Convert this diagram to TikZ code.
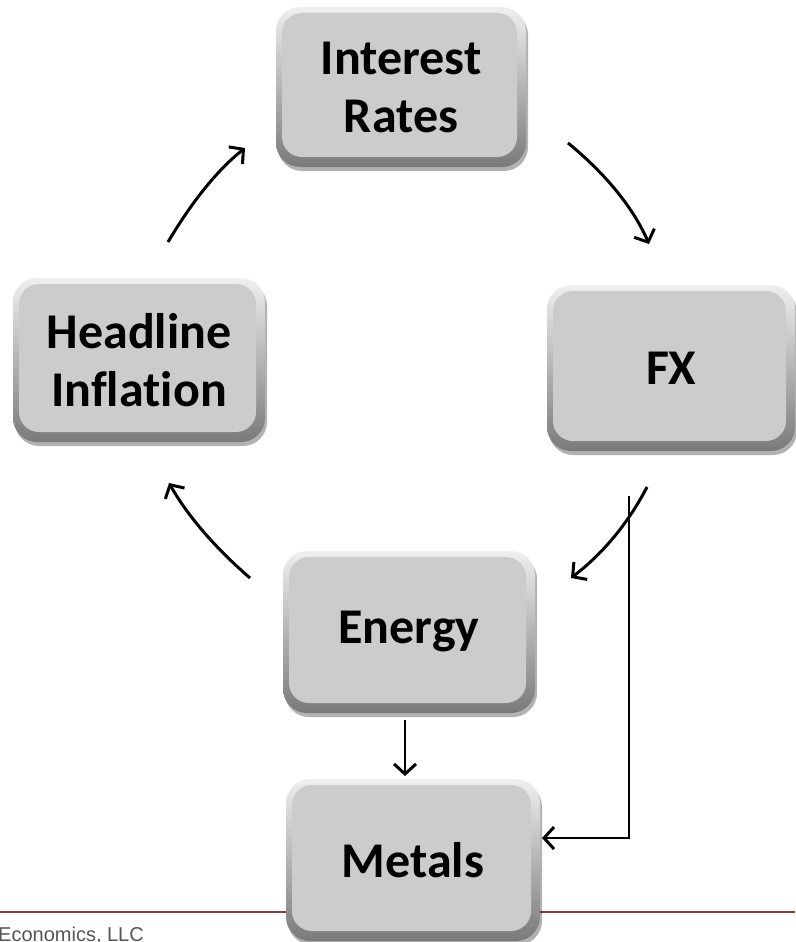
\documentclass[tikz,border=0pt]{standalone}
\usepackage{fontspec}
\setmainfont{Carlito}[Ligatures=NoCommon]
\newfontfamily\footfont{Liberation Sans}
\usetikzlibrary{arrows.meta,shadows}
\definecolor{boxface}{HTML}{CCCCCC}
\definecolor{rimlight}{HTML}{EFEFEF}
\definecolor{rimdark}{HTML}{7A7A7A}
\definecolor{rulered}{HTML}{8B3A3A}
\definecolor{foottext}{HTML}{555555}
\tikzset{
  bevelbox/.style={rounded corners=24pt, minimum width=250pt, minimum height=160pt,
    inner sep=0pt, align=center, top color=rimlight, bottom color=rimdark,
    drop shadow={shadow xshift=2pt, shadow yshift=-4pt, fill=black, opacity=0.3},
    font=\fontsize{50}{58}\selectfont\bfseries,
    path picture={
      \fill[boxface, rounded corners=20pt]
        ([xshift=6pt,yshift=-6pt]path picture bounding box.north west)
        rectangle ([xshift=-9pt,yshift=10pt]path picture bounding box.south east);
    }},
  arr/.style={line width=3pt, -{Straight Barb[length=10pt,width=22pt,line width=3pt]}},
}
\begin{document}
\begin{tikzpicture}[x=1pt,y=-1pt]
\useasboundingbox (0,0) rectangle (795,942);
% footer rule and text
\draw[rulered, line width=2.6pt] (0,912) -- (795,912);
\node[anchor=base west, inner sep=0pt, text=foottext, font=\footfont\fontsize{20}{22}\selectfont] (foot) at (-2,941) {Economics, LLC};
% boxes
\node[bevelbox, minimum width=250pt, minimum height=160pt] (ir) at (401,87) {Interest\\Rates};
\node[bevelbox, minimum width=252pt, minimum height=164pt] (hi) at (139,360) {Headline\\Inflation};
\node[bevelbox, minimum width=248pt, minimum height=166pt] (fx) at (671,368) {FX};
\node[bevelbox, minimum width=252pt, minimum height=162pt] (en) at (409,632) {Energy};
\node[bevelbox, minimum width=254pt, minimum height=162pt] (me) at (413,860) {Metals};
% arrow end points
\coordinate (a1s) at (168,242); \coordinate (a1e) at (245,148);
\coordinate (a2s) at (568,143); \coordinate (a2e) at (649,244);
\coordinate (a3s) at (647,487); \coordinate (a3e) at (571,578);
\coordinate (a4s) at (250,578); \coordinate (a4e) at (169,483);
\coordinate (e1) at (405,720); \coordinate (e2) at (405,776);
\coordinate (f1) at (629,496); \coordinate (m1) at (542,838);
% connectors
\draw[arr] (a1s) .. controls (190,205) and (215,172) .. (a1e);
\draw[arr] (a2s) .. controls (595,165) and (630,200) .. (a2e);
\draw[arr] (a3s) .. controls (630,520) and (605,552) .. (a3e);
\draw[arr] (a4s) .. controls (220,552) and (190,520) .. (a4e);
\draw[arr, line width=2.4pt] (e1) -- (e2);
\draw[arr, line width=2.4pt] (f1) |- (m1);
\end{tikzpicture}
\end{document}
